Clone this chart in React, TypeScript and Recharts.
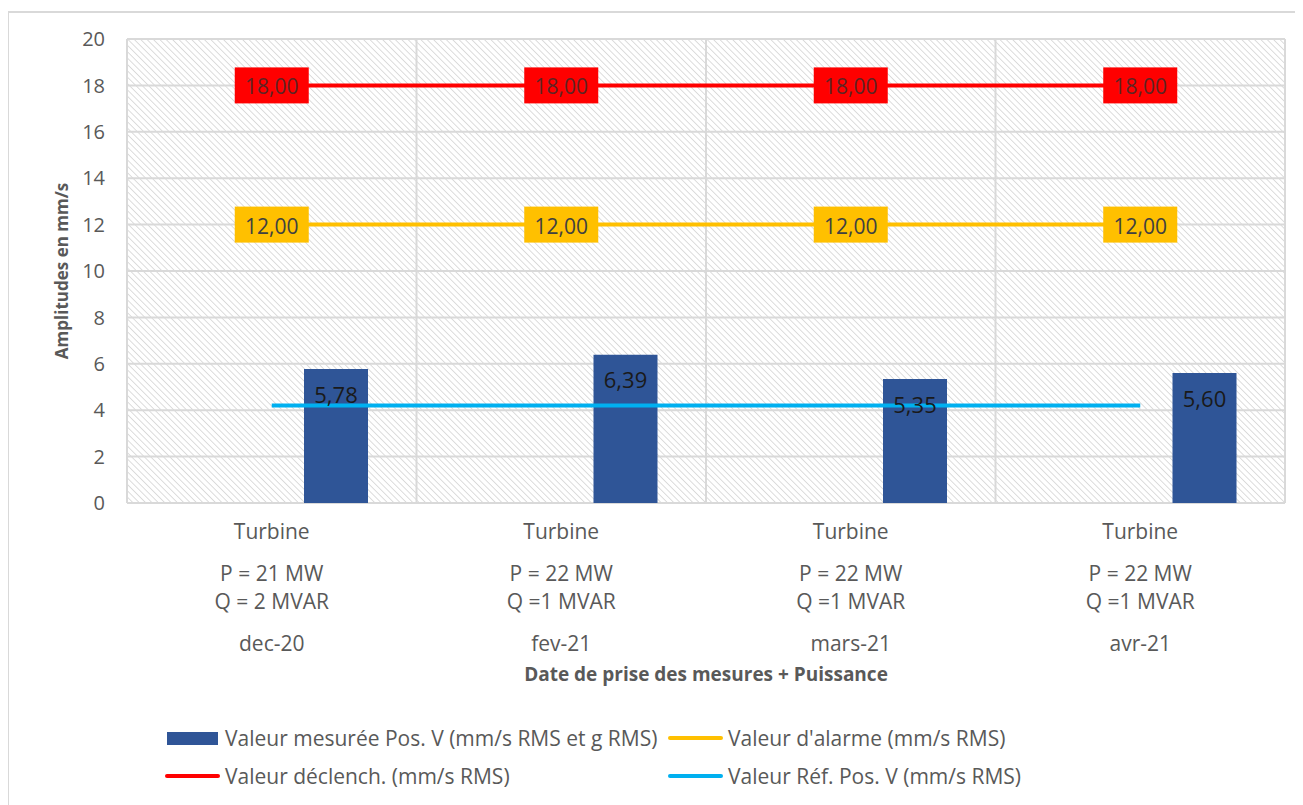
import { ComposedChart, Bar, Line, XAxis, YAxis, CartesianGrid, LabelList } from 'recharts';

const turbine = ['Turbine', 'Turbine', 'Turbine', 'Turbine'];
const powerP = ['P = 21 MW', 'P = 22 MW', 'P = 22 MW', 'P = 22 MW'];
const powerQ = ['Q = 2 MVAR', 'Q =1 MVAR', 'Q =1 MVAR', 'Q =1 MVAR'];
const dates = ['dec-20', 'fev-21', 'mars-21', 'avr-21'];

const measured = [5.78, 6.39, 5.35, 5.6];
const alarm = [12, 12, 12, 12];
const trip = [18, 18, 18, 18];
const reference = [4.2, 4.2, 4.2, 4.2];
// empty bar series kept in the cluster (the measured bar is the 3rd of 3)
const emptyA = [null, null, null, null];
const emptyB = [null, null, null, null];

const yTicks = [0, 2, 4, 6, 8, 10, 12, 14, 16, 18, 20];

const data = dates.map((d, i) => ({
  date: d,
  emptyA: emptyA[i],
  emptyB: emptyB[i],
  measured: measured[i],
  alarm: alarm[i],
  trip: trip[i],
  reference: reference[i],
}));

const FONT = '"Open Sans", Lato, sans-serif';
const GREY = '#595959';
const fmt = (v: number) => v.toFixed(2).replace('.', ',');

function CategoryTick({ x, y, payload }: any) {
  const i = payload.index;
  const lines: [string, number][] = [
    [turbine[i], 36],
    [powerP[i], 78],
    [powerQ[i], 106],
    [dates[i], 148],
  ];
  return (
    <g>
      {lines.map(([t, dy]) => (
        <text key={dy} x={x} y={y + dy} textAnchor="middle" fill={GREY} fontSize={21} fontFamily={FONT}>
          {t}
        </text>
      ))}
    </g>
  );
}

function boxLabel(fill: string, color: string) {
  return (props: any) => {
    const { x, y, value } = props;
    return (
      <g>
        <rect x={x - 37} y={y - 18} width={74} height={36} fill={fill} />
        <text x={x} y={y + 1} textAnchor="middle" dominantBaseline="central" fontSize={21} fill={color} fontFamily={FONT}>
          {fmt(Number(value))}
        </text>
      </g>
    );
  };
}

function YTitle({ viewBox }: any) {
  const cx = viewBox.x + 14;
  const cy = viewBox.y + viewBox.height / 2;
  return (
    <text
      x={cx}
      y={cy}
      transform={`rotate(-90, ${cx}, ${cy})`}
      textAnchor="middle"
      dominantBaseline="central"
      fill={GREY}
      fontSize={17}
      fontWeight={700}
      fontFamily={FONT}
    >
      Amplitudes en mm/s
    </text>
  );
}

function LegendItem({ left, top, color, kind, label }: { left: number; top: number; color: string; kind: 'rect' | 'line'; label: string }) {
  return (
    <div style={{ position: 'absolute', left, top: top - 14, height: 28, display: 'flex', alignItems: 'center', fontFamily: FONT, fontSize: 21, color: GREY, whiteSpace: 'nowrap' }}>
      {kind === 'rect' ? (
        <div style={{ width: 51, height: 13, background: color, marginRight: 7 }} />
      ) : (
        <div style={{ width: 55, height: 4, borderRadius: 2, background: color, marginRight: 5 }} />
      )}
      {label}
    </div>
  );
}

export default function App() {
  return (
    <div style={{ position: 'relative', width: 1295, height: 797 }}>
      <style>{'body{overflow:hidden}'}</style>
      <div style={{ position: 'absolute', left: -1, top: 3, width: 1300, height: 800, border: '2px solid #d9d9d9', boxSizing: 'border-box' }} />
      <ComposedChart
        width={1295}
        height={797}
        data={data}
        margin={{ top: 31, right: 18, left: 39, bottom: 117 }}
        barGap={0}
        barSize={64}
        style={{ position: 'absolute', left: 0, top: 0 }}
      >
        <defs>
          <pattern id="hatch" patternUnits="userSpaceOnUse" width={4.5} height={4.5} patternTransform="rotate(45)">
            <rect width={4.5} height={4.5} fill="#ffffff" />
            <line x1={0} y1={0} x2={4.5} y2={0} stroke="#d4d4d4" strokeWidth={1.6} />
          </pattern>
        </defs>
        <CartesianGrid
          fill="url(#hatch)"
          fillOpacity={1}
          stroke="#d9d9d9"
          strokeWidth={2}
          verticalCoordinatesGenerator={({ offset }: any) =>
            [0, 1, 2, 3, 4].map((k) => offset.left + (k * offset.width) / dates.length)
          }
        />
        <XAxis
          dataKey="date"
          height={185}
          axisLine={false}
          tickLine={false}
          tickSize={0}
          tickMargin={0}
          interval={0}
          tick={<CategoryTick />}
          label={{
            value: 'Date de prise des mesures + Puissance',
            position: 'insideBottom',
            offset: 7,
            fill: GREY,
            fontSize: 19,
            fontWeight: 700,
            fontFamily: FONT,
          }}
        />
        <YAxis
          width={80}
          domain={[0, 20]}
          ticks={yTicks}
          axisLine={false}
          tickLine={false}
          tickSize={0}
          tickMargin={22}
          tick={{ fill: GREY, fontSize: 20, fontFamily: FONT }}
          label={<YTitle />}
        />
        <Bar dataKey="emptyA" fill="#2f5597" isAnimationActive={false} legendType="none" />
        <Bar dataKey="emptyB" fill="#2f5597" isAnimationActive={false} legendType="none" />
        <Bar dataKey="measured" fill="#2f5597" isAnimationActive={false}>
          <LabelList
            dataKey="measured"
            position="insideTop"
            offset={18}
            formatter={(v: any) => fmt(Number(v))}
            fill="#1a1a1a"
            fontSize={22}
            fontFamily={FONT}
          />
        </Bar>
        <Line dataKey="alarm" type="linear" stroke="#ffc000" strokeWidth={4} dot={false} isAnimationActive={false}>
          <LabelList dataKey="alarm" content={boxLabel('#ffc000', '#404040')} />
        </Line>
        <Line dataKey="trip" type="linear" stroke="#ff0000" strokeWidth={4} dot={false} isAnimationActive={false}>
          <LabelList dataKey="trip" content={boxLabel('#ff0000', '#5e2424')} />
        </Line>
        <Line dataKey="reference" type="linear" stroke="#00b0f0" strokeWidth={4} dot={false} isAnimationActive={false} />
      </ComposedChart>
      <LegendItem left={159} top={730} color="#2f5597" kind="rect" label="Valeur mesurée Pos. V (mm/s RMS et g RMS)" />
      <LegendItem left={660} top={730} color="#ffc000" kind="line" label="Valeur d'alarme (mm/s RMS)" />
      <LegendItem left={157} top={768} color="#ff0000" kind="line" label="Valeur déclench. (mm/s RMS)" />
      <LegendItem left={660} top={768} color="#00b0f0" kind="line" label="Valeur Réf. Pos. V (mm/s RMS)" />
    </div>
  );
}
